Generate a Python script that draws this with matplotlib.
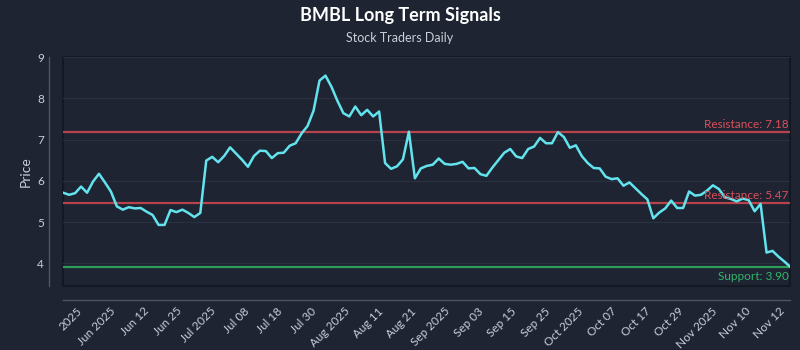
import matplotlib
matplotlib.use("Agg")
import matplotlib.pyplot as plt
import numpy as np

# closing prices (one per trading day)
prices = [
    5.71, 5.66, 5.70, 5.86, 5.71, 5.98, 6.17, 5.96, 5.74, 5.38,
    5.30, 5.36, 5.33, 5.34, 5.25, 5.17, 4.93, 4.93, 5.29, 5.24,
    5.30, 5.22, 5.12, 5.22, 6.49, 6.58, 6.45, 6.60, 6.81, 6.66,
    6.51, 6.34, 6.60, 6.73, 6.72, 6.55, 6.67, 6.68, 6.85, 6.91,
    7.15, 7.33, 7.70, 8.43, 8.55, 8.28, 7.94, 7.64, 7.56, 7.80,
    7.59, 7.72, 7.56, 7.68, 6.43, 6.29, 6.35, 6.52, 7.19, 6.06,
    6.30, 6.36, 6.39, 6.54, 6.41, 6.39, 6.41, 6.46, 6.30, 6.31,
    6.16, 6.12, 6.32, 6.50, 6.68, 6.77, 6.59, 6.55, 6.77, 6.83,
    7.04, 6.91, 6.91, 7.18, 7.06, 6.80, 6.86, 6.60, 6.43, 6.31,
    6.30, 6.10, 6.04, 6.06, 5.88, 5.96, 5.82, 5.68, 5.55, 5.09,
    5.23, 5.33, 5.52, 5.34, 5.34, 5.74, 5.64, 5.66, 5.76, 5.89,
    5.80, 5.60, 5.56, 5.50, 5.57, 5.53, 5.26, 5.44, 4.26, 4.30,
    4.16, 4.04, 3.91,
]

tick_labels = [
    "2025", "Jun 2025", "Jun 12", "Jun 25", "Jul 2025", "Jul 08", "Jul 18",
    "Jul 30", "Aug 2025", "Aug 11", "Aug 21", "Sep 2025", "Sep 03", "Sep 15",
    "Sep 25", "Oct 2025", "Oct 07", "Oct 17", "Oct 29", "Nov 2025", "Nov 10",
    "Nov 12",
]

resistance_levels = [7.18, 5.47]
support_level = 3.90

BG = "#1e2432"
TXT = "#c9ced8"
plt.rcParams["font.family"] = ["Lato", "DejaVu Sans"]

fig = plt.figure(figsize=(8, 3.5), dpi=100, facecolor=BG)
ax = fig.add_axes([0.079, 0.183, 0.909, 0.654])
ax.set_facecolor(BG)
ax.patch.set_edgecolor("#131823")
ax.patch.set_linewidth(1.5)

# spines first: set_position resets the ticks
for side in ["top", "right"]:
    ax.spines[side].set_visible(False)
for side in ["left", "bottom"]:
    ax.spines[side].set_position(("outward", 10))
    ax.spines[side].set_color("#4d5463")
    ax.spines[side].set_linewidth(1)

x = np.arange(len(prices))
ax.plot(x, prices, color="#62e3ee", linewidth=1.8, zorder=3)

for lvl in resistance_levels:
    ax.axhline(lvl, color="#b8434c", linewidth=1.6, zorder=2)
    ax.text(len(prices) - 1.3, lvl + 0.05, f"Resistance: {lvl:.2f}",
            color="#d9505a", fontsize=8.5, ha="right", va="bottom", zorder=4)
ax.axhline(support_level, color="#2c9e5c", linewidth=1.6, zorder=2)
ax.text(len(prices) - 1.3, support_level - 0.08, f"Support: {support_level:.2f}",
        color="#34b56a", fontsize=8.5, ha="right", va="top", zorder=4)

ax.set_xlim(0, len(prices) - 1)
ax.set_ylim(3.45, 9.0)
ax.set_yticks([4, 5, 6, 7, 8, 9])
ax.grid(axis="y", color="#2a3242", linewidth=0.8)
ax.set_axisbelow(True)

ax.tick_params(colors=TXT, labelsize=8.5, length=0, pad=4)
ax.set_xticks(np.linspace(3.5, 121.3, len(tick_labels)))
ax.set_xticklabels(tick_labels, rotation=45, ha="right")
ax.set_ylabel("Price", color=TXT, fontsize=10, labelpad=4)

fig.text(0.5, 0.955, "BMBL Long Term Signals", ha="center", va="center",
         color="white", fontsize=13, fontweight="bold")
fig.text(0.5, 0.89, "Stock Traders Daily", ha="center", va="center",
         color=TXT, fontsize=9)

fig.savefig("out.png", dpi=100, facecolor=BG)
